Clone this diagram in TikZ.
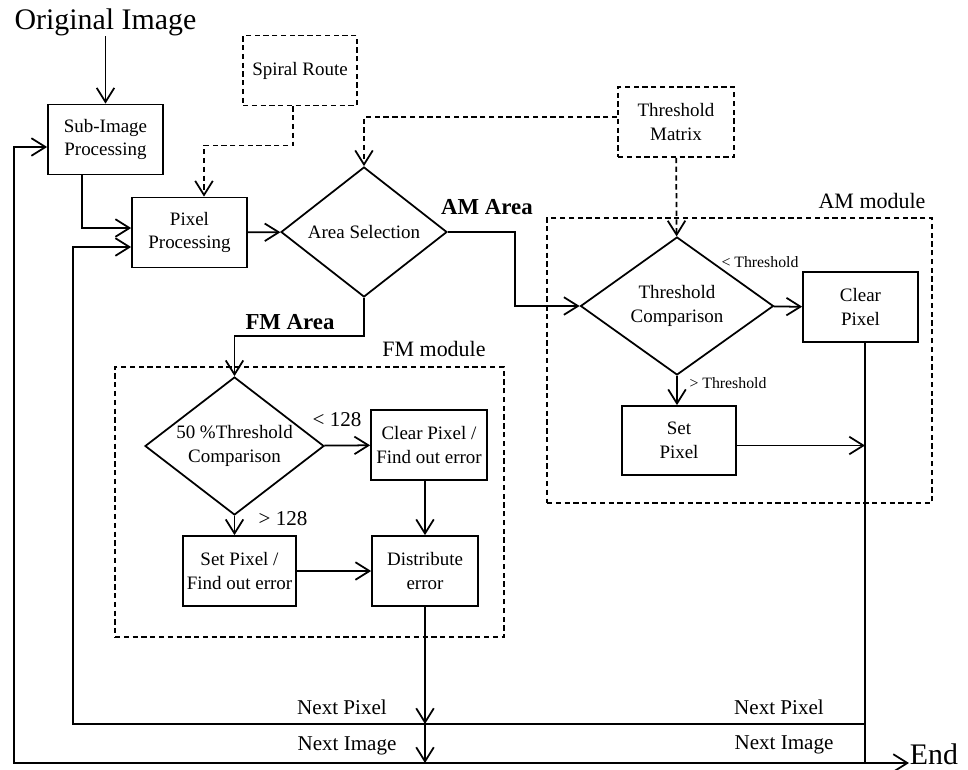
\documentclass[tikz,border=0pt]{standalone}
\usepackage{fontspec}
\setmainfont{Liberation Serif}
\usetikzlibrary{shapes.geometric,arrows.meta,calc}
\tikzset{every path/.style={line width=1pt}, >={Straight Barb[length=8pt,width=10pt]},
  dline/.style={dash pattern=on 3pt off 2pt},
  box/.style={draw, rectangle, align=center, inner sep=1.5pt, minimum width=2.3cm, minimum height=1.4cm, font=\fontsize{10.8}{13.5}\selectfont},
  dbox/.style={box, dline},
  decision/.style={draw, diamond, aspect=1.35, inner sep=0pt, align=center, font=\fontsize{10.8}{13.5}\selectfont},
  frame/.style={draw, rectangle, dline, inner sep=0pt},
  big/.style={inner sep=0pt, font=\fontsize{17}{20}\selectfont},
  lbl/.style={inner sep=0pt, font=\fontsize{12}{14}\selectfont},
  lblbold/.style={inner sep=0pt, font=\bfseries\fontsize{13}{15}\selectfont},
  modlbl/.style={inner sep=0pt, font=\fontsize{12.5}{15}\selectfont},
  small/.style={inner sep=0pt, font=\fontsize{9}{11}\selectfont}}

\begin{document}
\begin{tikzpicture}[x=0.02cm, y=-0.02cm]
    \useasboundingbox (0,0) rectangle (968,769);
    \node[frame, minimum width=7.7cm, minimum height=5.7cm] (ammod) at (739.5,360.5) {};
    \node[frame, minimum width=7.78cm, minimum height=5.4cm] (fmmod) at (309.5,502) {};
    \node[modlbl] (amlbl) at (872,201) {AM module};
    \node[modlbl] (fmlbl) at (434,349) {FM module};

    \node[big] (orig) at (105.5,22) {Original Image};
    \node[box] (sub) at (105.5,139.5) {Sub-Image\\Processing};
    \node[dbox, minimum width=2.28cm] (spiral) at (300,70.5) {Spiral Route};
    \node[box] (pix) at (189.5,232.5) {Pixel\\Processing};
    \node[decision, minimum width=3.32cm, minimum height=2.6cm] (area) at (364,232) {Area Selection};
    \node[dbox, minimum width=2.32cm] (tmat) at (676,122) {Threshold\\Matrix};
    \node[decision, minimum width=3.86cm, minimum height=2.76cm] (tcomp) at (677,306) {Threshold\\Comparison};
    \node[box] (clr) at (860.5,307) {Clear\\Pixel};
    \node[box, minimum width=2.28cm, minimum height=1.38cm] (setp) at (679,440.5) {Set\\Pixel};
    \node[decision, minimum width=3.58cm, minimum height=2.76cm] (fmd) at (234.5,446) {50 \%Threshold\\Comparison};
    \node[box, minimum width=2.32cm] (clrf) at (429,445) {Clear Pixel /\\Find out error};
    \node[box, minimum width=2.26cm] (setf) at (239.5,571) {Set Pixel /\\Find out error};
    \node[box, minimum width=2.12cm] (dist) at (425,571) {Distribute\\error};
    \node[big, anchor=west] (endn) at (909,754) {End};

    \coordinate (npr) at (865,724);
    \coordinate (npl) at (73,724);
    \coordinate (nir) at (865,763);
    \coordinate (nil) at (14,763);
    \coordinate (drop) at (clr.south -| npr);

    \draw[->] (orig) -- (sub);
    \draw[->] ([xshift=-0.47cm]sub.south) |- ([yshift=0.09cm]pix.west);
    \draw[dline, ->] ([xshift=-0.14cm]spiral.south) -- ++(0,39) -| ([xshift=0.29cm]pix.north);
    \draw[->] (pix) -- (area);
    \draw[dline, ->] ([yshift=0.1cm]tmat.west) -| (area.north);
    \draw[dline, ->] (tmat) -- (tcomp);
    \draw[->] (area.east) -- ++(67,0) |- (tcomp.west);
    \node[lblbold] (amarea) at (487,207) {AM Area};
    \draw[->] (tcomp) -- (clr);
    \node[small] (ltlbl) at (760,262) {< Threshold};
    \draw[->] (tcomp.south) -- (tcomp.south |- setp.north);
    \node[small] (gtlbl) at (728,383) {> Threshold};
    \draw (drop) -- (nir);
    \draw[->] ([yshift=-0.1cm]setp.east) -- ([yshift=-0.1cm]setp.east -| drop);
    \draw[->] (area.south) -- ++(0,38) -| (fmd.north);
    \node[lblbold] (fmarea) at (290,322) {FM Area};
    \draw[->] (fmd) -- (clrf);
    \node[lbl] (lt128) at (337,420) {< 128};
    \draw[->] (fmd.south) -- (fmd.south |- setf.north);
    \node[lbl] (gt128) at (283,519) {> 128};
    \draw[->] (setf) -- (dist);
    \draw[->] (clrf.south -| dist.north) -- (dist.north);
    \draw[->] (dist.south) -- (dist.south |- npr);
    \draw[->] (dist.south |- npr) -- (dist.south |- nir);
    \draw[->] (npr) -- (npl) |- ([yshift=-0.29cm]pix.west);
    \draw[->] (nir) -- (nil) |- ([yshift=-0.15cm]sub.west);
    \draw[->] (nir) -- (nir -| endn.west);
    \node[lbl] (npleft) at (342,707) {Next Pixel};
    \node[lbl] (nileft) at (347,746) {Next Image};
    \node[lbl] (npright) at (779,707) {Next Pixel};
    \node[lbl] (niright) at (784,745) {Next Image};
\end{tikzpicture}
\end{document}
